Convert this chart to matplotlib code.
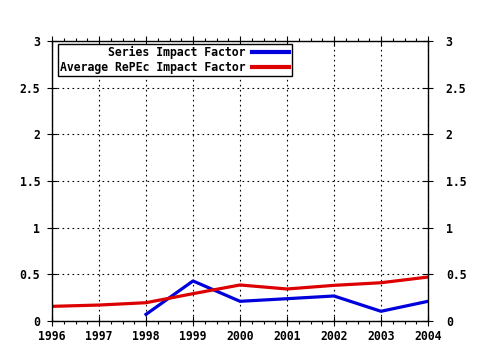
import matplotlib
matplotlib.use("Agg")
import matplotlib.pyplot as plt
import matplotlib.transforms as mtransforms
from matplotlib.ticker import MultipleLocator

years = [1996, 1997, 1998, 1999, 2000, 2001, 2002, 2003, 2004]
avg_repec = [0.157, 0.171, 0.196, 0.293, 0.386, 0.343, 0.382, 0.41, 0.471]
series_years = [1998, 1999, 2000, 2001, 2002, 2003, 2004]
series_if = [0.071, 0.429, 0.211, 0.239, 0.268, 0.104, 0.211]
y_ticks = [0, 0.5, 1, 1.5, 2, 2.5, 3]
y_labels = ["0", "0.5", "1", "1.5", "2", "2.5", "3"]

plt.rcParams["font.family"] = ["DejaVu Sans Mono"]
plt.rcParams["font.weight"] = "bold"
plt.rcParams["font.size"] = 8.3

fig = plt.figure(figsize=(4.8, 3.5), dpi=100)
ax = fig.add_axes([52 / 480, 29 / 350, 376 / 480, 280 / 350])

ax.plot(series_years, series_if, color="#0000dd", lw=2.3, label="Series Impact Factor")
ax.plot(years, avg_repec, color="#dd0000", lw=2.3, label="Average RePEc Impact Factor")

ax.set_xlim(1996, 2004)
ax.set_ylim(0, 3)
ax.set_xticks(years)
ax.set_xticklabels([str(y) for y in years])
ax.xaxis.set_minor_locator(MultipleLocator(0.25))
ax.set_yticks(y_ticks)
ax.set_yticklabels(y_labels)

ax.tick_params(which="major", direction="inout", length=7, width=0.8,
               top=True, right=True, pad=3)
ax.tick_params(axis="y", which="major", labelright=True, pad=5)
ax.tick_params(axis="x", which="minor", direction="out", length=2.5, width=0.8,
               top=True)
ax.grid(True, which="major", color="black", linestyle=(0, (1.5, 3)), lw=0.8)
for s in ax.spines.values():
    s.set_linewidth(1)

leg = ax.legend(loc="upper left", bbox_to_anchor=(0.015, 0.99), markerfirst=False,
                fancybox=False, framealpha=1, edgecolor="black",
                borderpad=0.2, labelspacing=0.15, handlelength=3.2,
                handletextpad=0.6, borderaxespad=0)
leg.get_frame().set_linewidth(1)
for line in leg.get_lines():
    line.set_linewidth(3)
leg._legend_box.align = "right"

# right-hand y labels sit a bit further out
offset = mtransforms.ScaledTranslation(6 / 100, 0, fig.dpi_scale_trans)
for t in ax.yaxis.get_major_ticks():
    t.label2.set_transform(t.label2.get_transform() + offset)

fig.savefig("out.png", dpi=100)
